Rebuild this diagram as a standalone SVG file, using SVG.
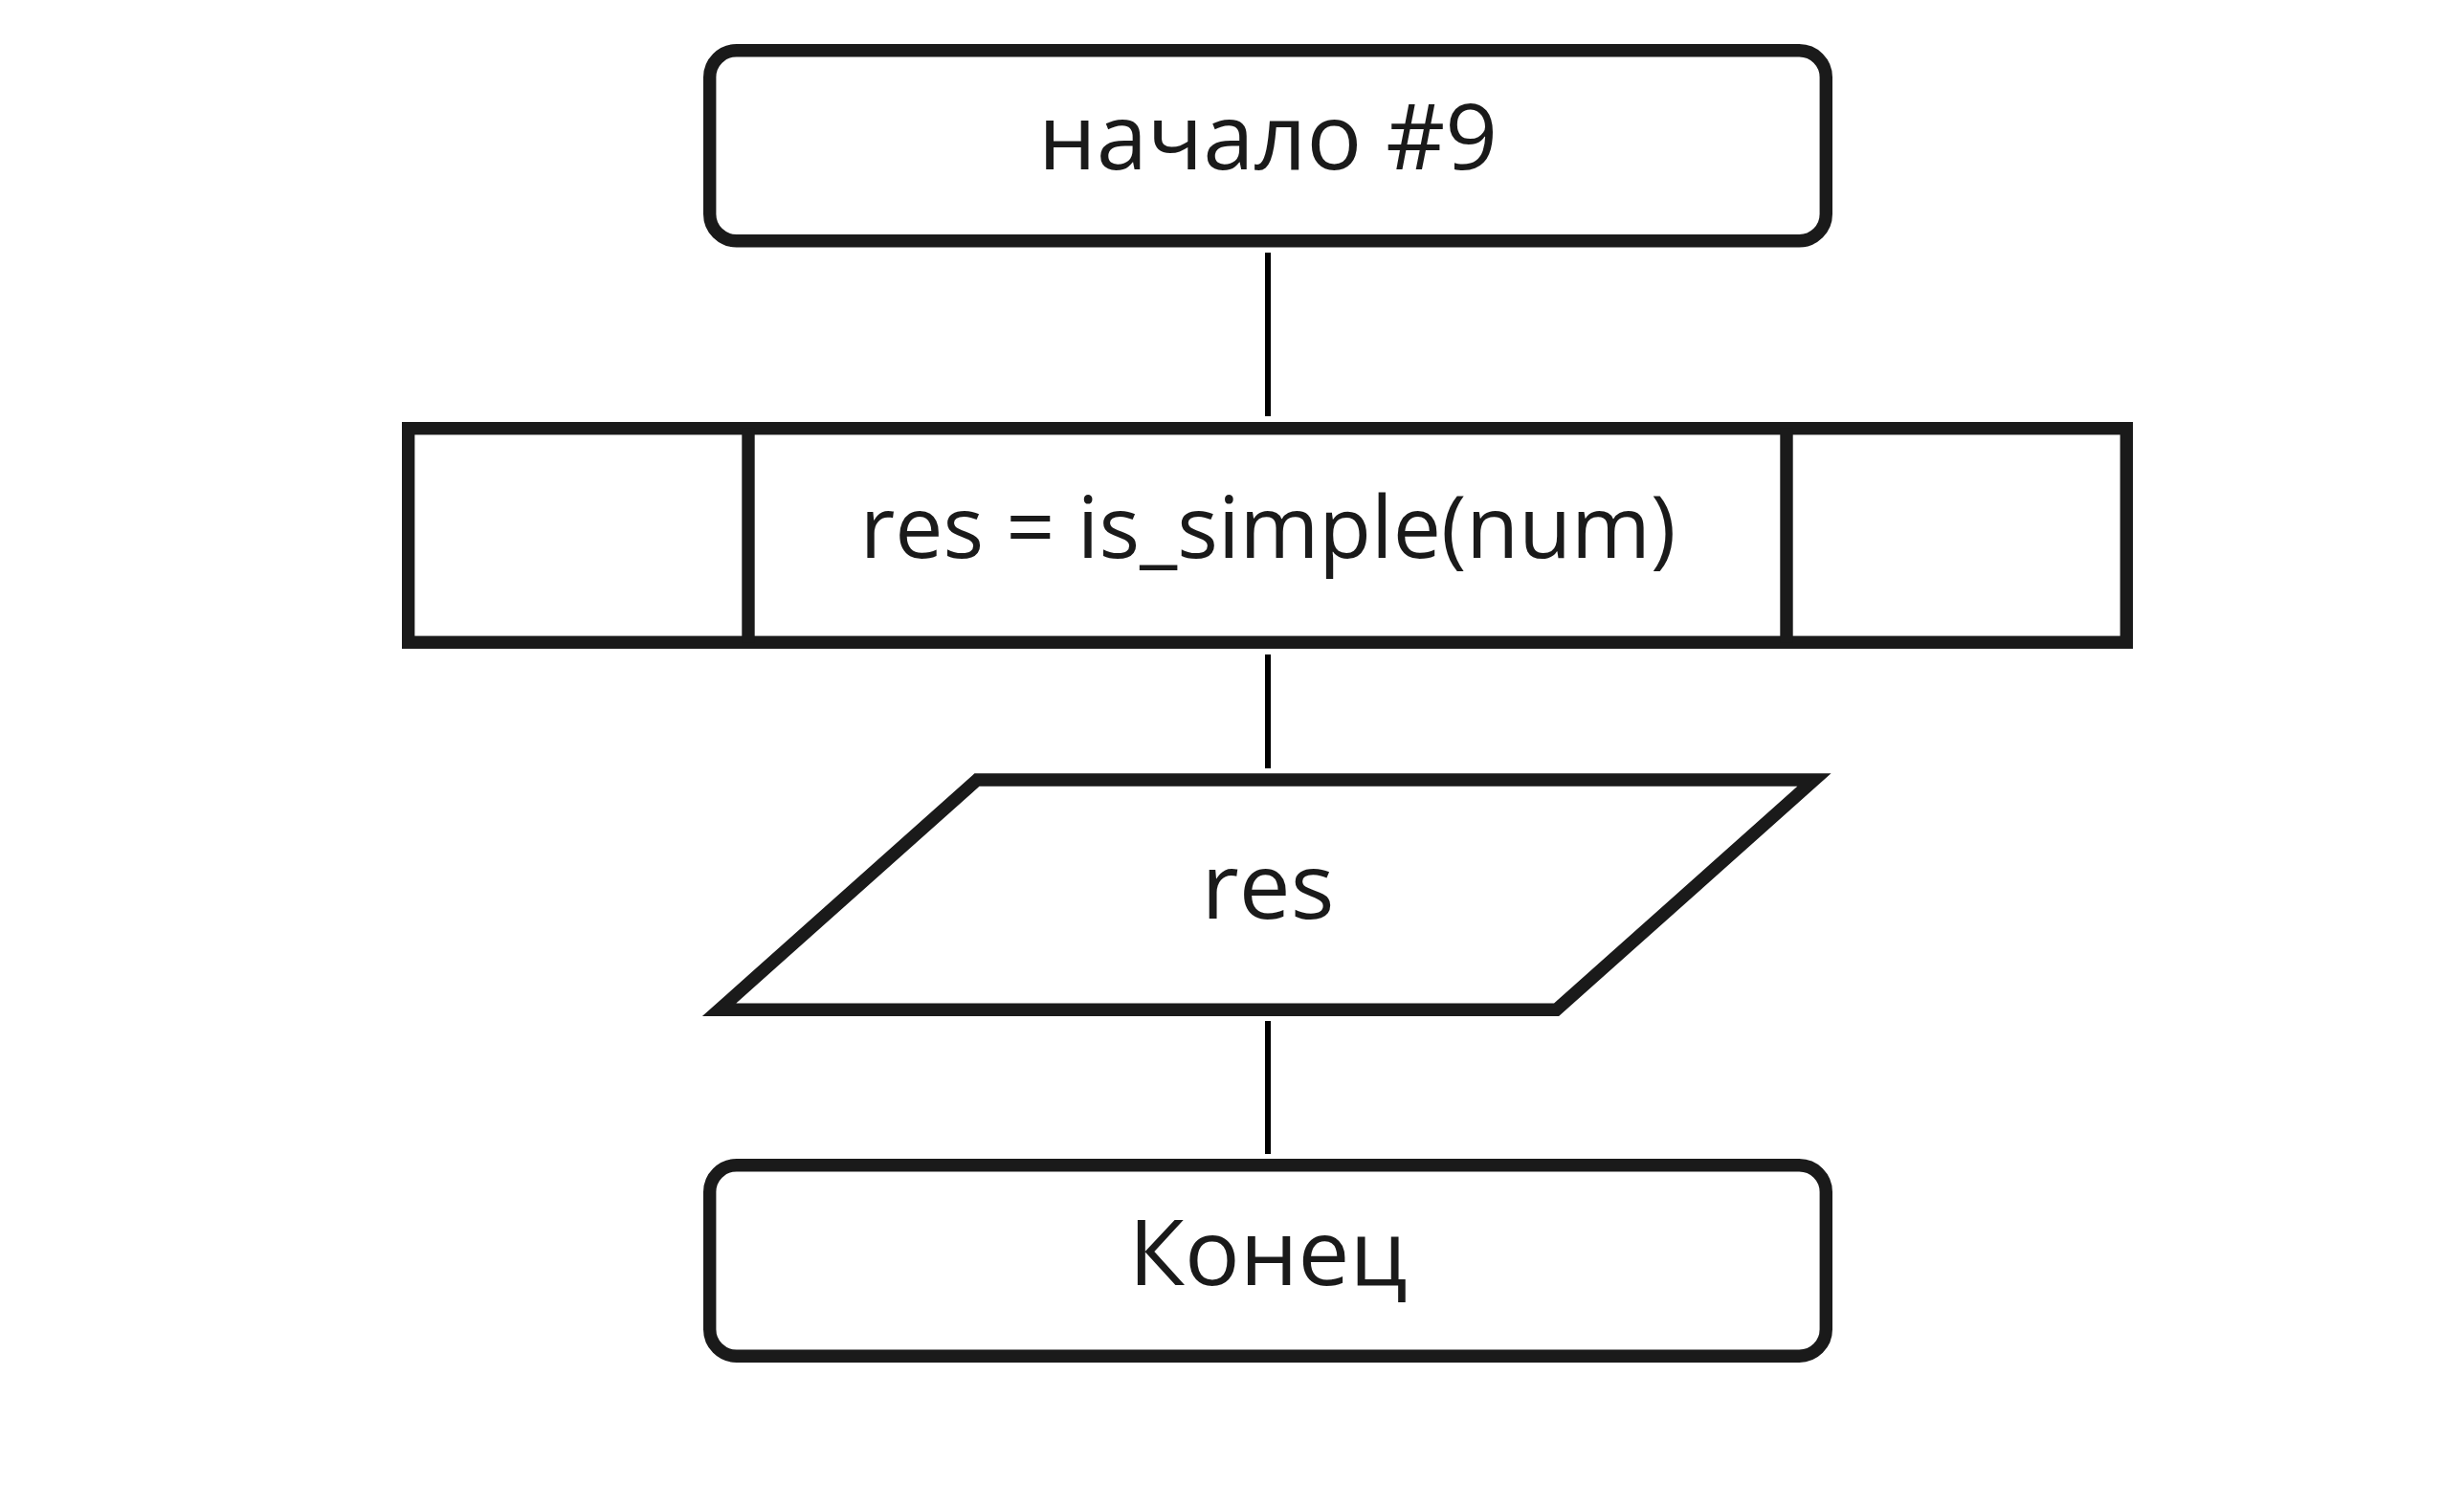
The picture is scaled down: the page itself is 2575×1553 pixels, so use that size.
<svg xmlns="http://www.w3.org/2000/svg" width="2575" height="1553" viewBox="0 0 2575 1553">
<style>
.shape{fill:#ffffff;stroke:#1a1a1a;stroke-width:13.4;stroke-linejoin:miter;stroke-miterlimit:10}
.conn{stroke:#000000;stroke-width:6;fill:none}
.lbl{font-family:"Open Sans","Noto Sans","DejaVu Sans",sans-serif;font-size:96px;fill:#1a1a1a;text-anchor:middle}
.small{font-size:89.5px}
</style>
<rect x="0" y="0" width="2575" height="1553" fill="#ffffff"/>
<g id="connectors">
<line class="conn" x1="1325" y1="264" x2="1325" y2="435"/>
<line class="conn" x1="1325" y1="684" x2="1325" y2="803"/>
<line class="conn" x1="1325" y1="1067" x2="1325" y2="1206"/>
</g>
<g id="start">
<rect class="shape" x="741.7" y="52.7" width="1166.6" height="199.1" rx="28" ry="28"/>
<text class="lbl" x="1325" y="177">начало #9</text>
</g>
<g id="process">
<rect class="shape" x="426.7" y="447.7" width="1795.6" height="223.6"/>
<line class="shape" x1="782" y1="447.7" x2="782" y2="671.3"/>
<line class="shape" x1="1867" y1="447.7" x2="1867" y2="671.3"/>
<text class="lbl small" x="1325" y="582.5">res = is_simple(num)</text>
</g>
<g id="output">
<path class="shape" d="M1021,815 L1896,815 L1626.5,1055.3 L751.5,1055.3 Z"/>
<text class="lbl" x="1325" y="959.5">res</text>
</g>
<g id="end">
<rect class="shape" x="741.7" y="1217.7" width="1166.6" height="199.6" rx="28" ry="28"/>
<text class="lbl" x="1325" y="1343">Конец</text>
</g>
</svg>
